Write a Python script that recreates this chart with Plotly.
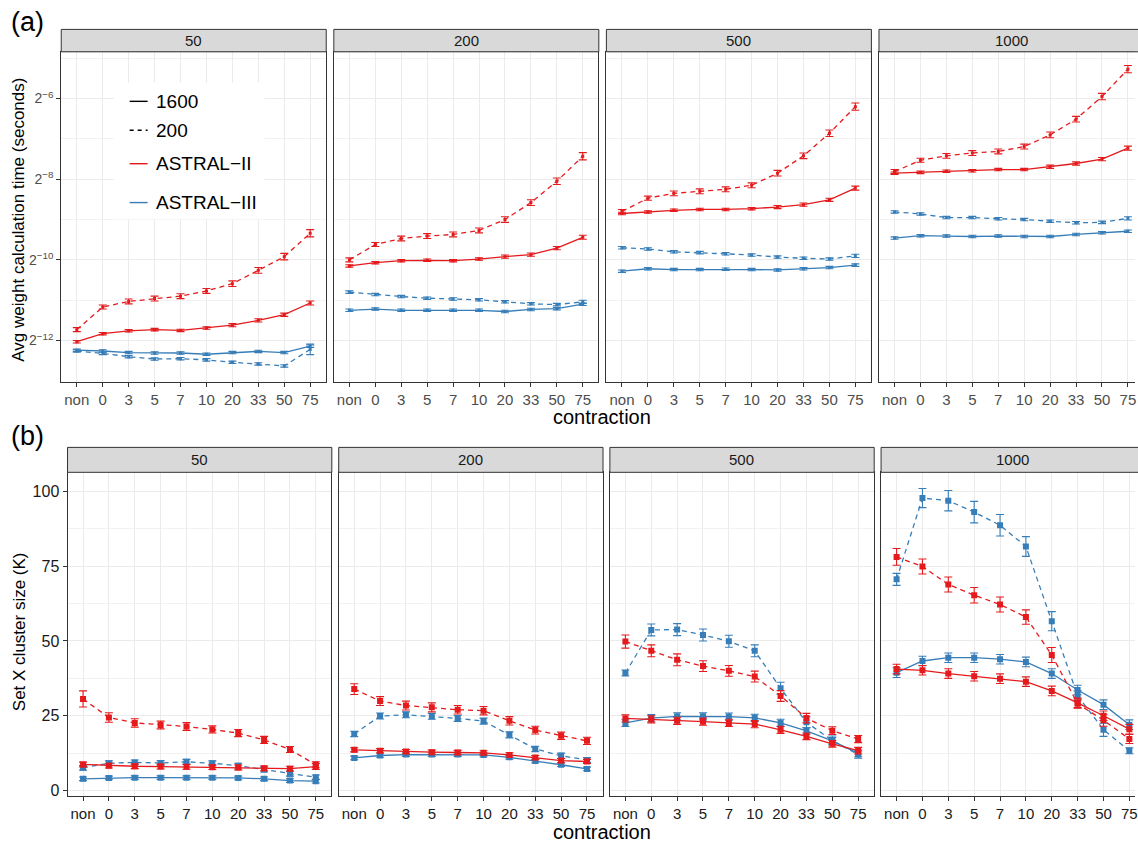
import numpy as np
import plotly.graph_objects as go

W, H = 1138, 845
FONT = "Liberation Sans, Arial, Helvetica, sans-serif"
RED, BLUE = "#E41A1C", "#377EB8"

contraction = ["non", "0", "3", "5", "7", "10", "20", "33", "50", "75"]
facets = ["50", "200", "500", "1000"]

# ---- (a) average weight calculation time, stored as log2(seconds) ----
time_50_ii_200 = [-11.73, -11.17, -11.03, -10.96, -10.90, -10.77, -10.59, -10.26, -9.92, -9.34]
time_50_ii_1600 = [-12.03, -11.83, -11.76, -11.73, -11.75, -11.69, -11.62, -11.50, -11.36, -11.07]
time_50_iii_200 = [-12.26, -12.32, -12.40, -12.46, -12.45, -12.48, -12.54, -12.58, -12.63, -12.22]
time_50_iii_1600 = [-12.24, -12.26, -12.30, -12.31, -12.31, -12.34, -12.30, -12.27, -12.30, -12.14]

time_200_ii_200 = [-10.00, -9.62, -9.47, -9.41, -9.37, -9.27, -9.00, -8.58, -8.05, -7.43]
time_200_ii_1600 = [-10.15, -10.07, -10.02, -10.01, -10.02, -9.98, -9.92, -9.87, -9.71, -9.44]
time_200_iii_200 = [-10.80, -10.86, -10.91, -10.95, -10.97, -10.99, -11.04, -11.09, -11.11, -11.04]
time_200_iii_1600 = [-11.25, -11.22, -11.25, -11.25, -11.25, -11.25, -11.28, -11.23, -11.21, -11.10]

time_500_ii_200 = [-8.80, -8.47, -8.35, -8.30, -8.25, -8.15, -7.85, -7.42, -6.86, -6.20]
time_500_ii_1600 = [-8.85, -8.81, -8.77, -8.75, -8.75, -8.73, -8.69, -8.63, -8.51, -8.22]
time_500_iii_200 = [-9.70, -9.73, -9.80, -9.82, -9.85, -9.88, -9.93, -9.96, -9.98, -9.90]
time_500_iii_1600 = [-10.28, -10.22, -10.24, -10.24, -10.23, -10.24, -10.25, -10.22, -10.19, -10.13]

time_1000_ii_200 = [-7.81, -7.53, -7.42, -7.35, -7.31, -7.19, -6.90, -6.51, -5.95, -5.27]
time_1000_ii_1600 = [-7.85, -7.83, -7.80, -7.79, -7.76, -7.76, -7.69, -7.61, -7.50, -7.23]
time_1000_iii_200 = [-8.81, -8.86, -8.95, -8.95, -8.98, -9.00, -9.04, -9.08, -9.07, -8.97]
time_1000_iii_1600 = [-9.46, -9.40, -9.41, -9.42, -9.41, -9.42, -9.42, -9.37, -9.33, -9.29]

# error half-heights in log2 units
time_err_ii_200 = [0.05, 0.05, 0.06, 0.06, 0.06, 0.06, 0.07, 0.07, 0.08, 0.09]
time_err_ii_1600 = [0.03, 0.03, 0.03, 0.03, 0.03, 0.03, 0.04, 0.04, 0.04, 0.05]
time_err_iii_200 = [0.03, 0.03, 0.03, 0.03, 0.03, 0.03, 0.03, 0.03, 0.03, 0.04]
time_err_iii_1600 = [0.03, 0.03, 0.03, 0.03, 0.03, 0.03, 0.03, 0.03, 0.03, 0.03]
time_err_50_iii_200 = [0.03, 0.03, 0.03, 0.03, 0.03, 0.03, 0.03, 0.03, 0.03, 0.13]

# ---- (b) Set X cluster size (K) ----
size_50_ii_200 = [30.6, 24.4, 22.6, 21.9, 21.4, 20.4, 19.2, 16.9, 13.7, 8.6]
size_50_ii_1600 = [8.7, 8.3, 8.1, 8.0, 7.9, 7.8, 7.7, 7.4, 7.3, 8.0]
size_50_iii_200 = [7.6, 9.1, 9.4, 9.2, 9.6, 9.1, 8.3, 7.0, 5.6, 4.4]
size_50_iii_1600 = [3.9, 4.2, 4.3, 4.3, 4.3, 4.3, 4.2, 3.9, 3.3, 3.1]
err_50_ii_200 = [2.7, 1.6, 1.4, 1.3, 1.3, 1.2, 1.2, 1.2, 1.0, 1.0]
err_50_ii_1600 = [0.8, 0.8, 0.8, 0.8, 0.8, 0.8, 0.8, 0.8, 0.8, 1.0]
err_50_iii_200 = [0.8, 0.8, 0.8, 0.8, 0.8, 0.8, 0.8, 0.8, 0.8, 0.8]
err_50_iii_1600 = [0.6, 0.6, 0.6, 0.6, 0.6, 0.6, 0.6, 0.6, 0.6, 0.6]

size_200_ii_200 = [33.9, 29.9, 28.4, 27.8, 27.0, 26.7, 23.3, 20.2, 18.3, 16.6]
size_200_ii_1600 = [13.6, 13.3, 13.0, 12.8, 12.7, 12.6, 11.9, 11.0, 10.0, 9.7]
size_200_iii_200 = [18.9, 24.9, 25.3, 24.8, 24.1, 23.2, 18.6, 13.9, 11.6, 10.2]
size_200_iii_1600 = [10.9, 11.7, 12.0, 12.0, 12.0, 11.9, 11.1, 9.9, 8.6, 7.2]
err_200_ii_200 = [1.8, 1.5, 1.5, 1.5, 1.4, 1.4, 1.4, 1.3, 1.2, 1.2]
err_200_ii_1600 = [0.7, 0.7, 0.7, 0.7, 0.7, 0.7, 0.7, 0.7, 0.7, 0.7]
err_200_iii_200 = [0.9, 1.0, 1.0, 1.0, 1.0, 1.0, 1.0, 0.9, 0.9, 0.8]
err_200_iii_1600 = [0.6, 0.6, 0.6, 0.6, 0.6, 0.6, 0.6, 0.6, 0.6, 0.6]

size_500_ii_200 = [49.8, 46.7, 43.7, 41.6, 40.0, 38.1, 31.6, 24.2, 20.0, 17.2]
size_500_ii_1600 = [24.1, 23.8, 23.3, 23.0, 22.6, 22.2, 20.3, 18.1, 15.6, 13.3]
size_500_iii_200 = [39.3, 53.7, 53.8, 52.0, 49.9, 46.7, 34.2, 22.8, 16.7, 12.0]
size_500_iii_1600 = [22.6, 24.2, 24.8, 24.8, 24.7, 24.3, 22.6, 19.9, 16.6, 12.4]
err_500_ii_200 = [2.2, 2.0, 2.0, 1.8, 1.8, 1.8, 1.8, 1.6, 1.3, 1.2]
err_500_ii_1600 = [1.2, 1.2, 1.2, 1.2, 1.2, 1.2, 1.2, 1.1, 1.1, 1.1]
err_500_iii_200 = [1.0, 2.0, 2.0, 2.0, 2.0, 2.0, 2.0, 1.8, 1.5, 1.2]
err_500_iii_1600 = [1.2, 1.2, 1.2, 1.2, 1.2, 1.2, 1.2, 1.1, 1.1, 1.1]

size_1000_ii_200 = [78.1, 74.9, 68.9, 65.3, 62.2, 58.0, 45.3, 29.0, 23.5, 17.2]
size_1000_ii_1600 = [40.6, 40.2, 39.1, 38.2, 37.4, 36.4, 33.3, 29.3, 25.0, 20.5]
size_1000_iii_200 = [70.6, 97.8, 96.9, 93.1, 88.7, 81.6, 56.6, 31.7, 20.3, 13.3]
size_1000_iii_1600 = [39.4, 43.3, 44.4, 44.4, 43.9, 43.0, 39.1, 33.6, 28.7, 22.0]
err_1000_ii_200 = [2.8, 2.5, 2.5, 2.6, 2.5, 2.4, 2.5, 1.5, 2.0, 1.5]
err_1000_ii_1600 = [1.6, 1.6, 1.6, 1.6, 1.6, 1.6, 1.6, 1.6, 1.6, 1.6]
err_1000_iii_200 = [2.0, 3.2, 3.4, 3.6, 3.6, 3.3, 3.2, 1.6, 2.2, 1.0]
err_1000_iii_1600 = [1.6, 1.6, 1.6, 1.6, 1.6, 1.6, 1.6, 1.6, 1.6, 1.6]

time_series = [
    [(time_50_iii_200, time_err_50_iii_200, BLUE, "200"), (time_50_iii_1600, time_err_iii_1600, BLUE, "1600"),
     (time_50_ii_200, time_err_ii_200, RED, "200"), (time_50_ii_1600, time_err_ii_1600, RED, "1600")],
    [(time_200_iii_200, time_err_iii_200, BLUE, "200"), (time_200_iii_1600, time_err_iii_1600, BLUE, "1600"),
     (time_200_ii_200, time_err_ii_200, RED, "200"), (time_200_ii_1600, time_err_ii_1600, RED, "1600")],
    [(time_500_iii_200, time_err_iii_200, BLUE, "200"), (time_500_iii_1600, time_err_iii_1600, BLUE, "1600"),
     (time_500_ii_200, time_err_ii_200, RED, "200"), (time_500_ii_1600, time_err_ii_1600, RED, "1600")],
    [(time_1000_iii_200, time_err_iii_200, BLUE, "200"), (time_1000_iii_1600, time_err_iii_1600, BLUE, "1600"),
     (time_1000_ii_200, time_err_ii_200, RED, "200"), (time_1000_ii_1600, time_err_ii_1600, RED, "1600")],
]
size_series = [
    [(size_50_iii_200, err_50_iii_200, BLUE, "200"), (size_50_iii_1600, err_50_iii_1600, BLUE, "1600"),
     (size_50_ii_200, err_50_ii_200, RED, "200"), (size_50_ii_1600, err_50_ii_1600, RED, "1600")],
    [(size_200_iii_200, err_200_iii_200, BLUE, "200"), (size_200_iii_1600, err_200_iii_1600, BLUE, "1600"),
     (size_200_ii_200, err_200_ii_200, RED, "200"), (size_200_ii_1600, err_200_ii_1600, RED, "1600")],
    [(size_500_iii_200, err_500_iii_200, BLUE, "200"), (size_500_iii_1600, err_500_iii_1600, BLUE, "1600"),
     (size_500_ii_200, err_500_ii_200, RED, "200"), (size_500_ii_1600, err_500_ii_1600, RED, "1600")],
    [(size_1000_iii_200, err_1000_iii_200, BLUE, "200"), (size_1000_iii_1600, err_1000_iii_1600, BLUE, "1600"),
     (size_1000_ii_200, err_1000_ii_200, RED, "200"), (size_1000_ii_1600, err_1000_ii_1600, RED, "1600")],
]

DASH = {"200": "5px,4px", "1600": "solid"}

# panel geometry in pixels
top_left = [61.4, 334.7, 608.0, 881.3]
top_w = 265.2
top_strip = (29.5, 52.0)
top_plot = (52.0, 383.0)
bot_left = [67.7, 339.6, 611.5, 883.4]
bot_w = 264.5
bot_strip = (449.0, 474.0)
bot_plot = (474.0, 799.0)

LOG2 = np.log10(2)
fig = go.Figure()
layout = dict(width=W, height=H, margin=dict(l=0, r=0, t=0, b=0),
              paper_bgcolor="white", plot_bgcolor="white", showlegend=False,
              font=dict(family=FONT, color="#1A1A1A"))
shapes, annotations = [], []


def px_x(v):
    return v / W


def px_y(v):
    return 1 - v / H


def add_panel(idx, left, width, plot_rng, strip_rng, label, yaxis_extra, tick_color, last):
    right = left + width
    vis_right = min(right, W)
    xr_end = -0.6 + 10.2 * (vis_right - left) / width
    xa = dict(domain=[px_x(left), px_x(vis_right)], type="category",
              categoryorder="array", categoryarray=contraction,
              range=[-0.6, xr_end], anchor=f"y{idx}",
              showgrid=True, gridcolor="#EBEBEB", gridwidth=1.1, zeroline=False,
              showline=True, linecolor="#333333", linewidth=1, mirror=True,
              ticks="outside", ticklen=4, tickcolor="#333333", tickwidth=1,
              tickfont=dict(family=FONT, size=15, color=tick_color), fixedrange=True)
    ya = dict(domain=[px_y(plot_rng[1]), px_y(plot_rng[0])], anchor=f"x{idx}",
              showgrid=True, gridcolor="#EBEBEB", gridwidth=1.1, zeroline=False,
              showline=True, linecolor="#333333", linewidth=1, mirror=not last,
              ticks="outside", ticklen=4, tickcolor="#333333", tickwidth=1,
              fixedrange=True)
    ya.update(yaxis_extra)
    layout[f"xaxis{idx}"] = xa
    layout[f"yaxis{idx}"] = ya
    shapes.append(dict(type="rect", xref="paper", yref="paper",
                       x0=px_x(left), x1=px_x(right + 0.5),
                       y0=px_y(strip_rng[1]), y1=px_y(strip_rng[0]),
                       fillcolor="#D9D9D9", line=dict(color="#333333", width=1), layer="above"))
    annotations.append(dict(xref="paper", yref="paper", x=px_x(left + width / 2),
                            y=px_y((strip_rng[0] + strip_rng[1]) / 2), text=label,
                            showarrow=False, xanchor="center", yanchor="middle",
                            font=dict(family=FONT, size=15, color="#1A1A1A")))


top_major = [-12, -10, -8, -6]
top_minor = [-13, -11, -9, -7, -5]
for i, facet in enumerate(facets):
    idx = i + 1
    extra = dict(type="log", range=[-13.02 * LOG2, -4.84 * LOG2],
                 tickmode="array", tickvals=[2.0 ** e for e in top_major],
                 ticktext=[f"2<sup>\u2212{-e}</sup>" for e in top_major],
                 showticklabels=(i == 0),
                 tickfont=dict(family=FONT, size=14, color="#4D4D4D"),
                 minor=dict(tickmode="array", tickvals=[2.0 ** e for e in top_minor],
                            showgrid=True, gridcolor="#F2F2F2", gridwidth=0.6, ticks=""))
    if i > 0:
        extra["ticks"] = ""
    add_panel(idx, top_left[i], top_w, top_plot, top_strip, facet, extra, "#4D4D4D", i == 3)
    for vals, errs, color, genes in time_series[i]:
        v = np.array(vals)
        e = np.array(errs)
        y = 2.0 ** v
        fig.add_trace(go.Scatter(
            x=contraction, y=y, mode="lines+markers",
            line=dict(color=color, width=1.3, dash=DASH[genes]),
            marker=dict(symbol="square", size=3, color=color),
            error_y=dict(type="data", symmetric=False,
                         array=y * (2.0 ** e - 1), arrayminus=y * (1 - 2.0 ** -e),
                         color=color, thickness=1.1, width=4),
            xaxis=f"x{idx}", yaxis=f"y{idx}"))

for i, facet in enumerate(facets):
    idx = i + 5
    extra = dict(range=[-1.9, 106.4], tickmode="array", tickvals=[0, 25, 50, 75, 100],
                 showticklabels=(i == 0),
                 tickfont=dict(family=FONT, size=16, color="#1A1A1A"),
                 minor=dict(tickmode="array", tickvals=[12.5, 37.5, 62.5, 87.5],
                            showgrid=True, gridcolor="#F2F2F2", gridwidth=0.6, ticks=""))
    if i > 0:
        extra["ticks"] = ""
    add_panel(idx, bot_left[i], bot_w, bot_plot, bot_strip, facet, extra, "#1A1A1A", i == 3)
    for vals, errs, color, genes in size_series[i]:
        fig.add_trace(go.Scatter(
            x=contraction, y=vals, mode="lines+markers",
            line=dict(color=color, width=1.3, dash=DASH[genes]),
            marker=dict(symbol="square", size=6, color=color),
            error_y=dict(type="data", array=errs, color=color, thickness=1.1, width=4),
            xaxis=f"x{idx}", yaxis=f"y{idx}"))

# axis titles and panel tags
annotations += [
    dict(xref="paper", yref="paper", x=px_x(18.5), y=px_y(220), text="Avg weight calculation time (seconds)",
         textangle=-90, showarrow=False, xanchor="center", yanchor="middle",
         font=dict(family=FONT, size=17, color="#000000")),
    dict(xref="paper", yref="paper", x=px_x(19.5), y=px_y(634), text="Set X cluster size (K)",
         textangle=-90, showarrow=False, xanchor="center", yanchor="middle",
         font=dict(family=FONT, size=17, color="#000000")),
    dict(xref="paper", yref="paper", x=px_x(604), y=px_y(418), text="contraction",
         showarrow=False, xanchor="center", yanchor="middle",
         font=dict(family=FONT, size=20, color="#000000")),
    dict(xref="paper", yref="paper", x=px_x(604), y=px_y(835), text="contraction",
         showarrow=False, xanchor="center", yanchor="middle",
         font=dict(family=FONT, size=20, color="#000000")),
    dict(xref="paper", yref="paper", x=px_x(9), y=px_y(22), text="(a)",
         showarrow=False, xanchor="left", yanchor="middle",
         font=dict(family=FONT, size=27, color="#000000")),
    dict(xref="paper", yref="paper", x=px_x(9), y=px_y(438), text="(b)",
         showarrow=False, xanchor="left", yanchor="middle",
         font=dict(family=FONT, size=27, color="#000000")),
]

# key inside the first (a) panel
shapes.append(dict(type="rect", xref="paper", yref="paper", x0=px_x(114), x1=px_x(265),
                   y0=px_y(220), y1=px_y(83), fillcolor="white", line=dict(width=0), layer="above"))
key_items = [("1600", "#000000", "solid", 101.7), ("200", "#000000", "4px,4px", 130.7),
             ("ASTRAL\u2212II", RED, "solid", 164.3), ("ASTRAL\u2212III", BLUE, "solid", 203.3)]
for text, color, dash, ypx in key_items:
    shapes.append(dict(type="line", xref="paper", yref="paper", x0=px_x(130), x1=px_x(148),
                       y0=px_y(ypx), y1=px_y(ypx), line=dict(color=color, width=1.4, dash=dash),
                       layer="above"))
    annotations.append(dict(xref="paper", yref="paper", x=px_x(154), y=px_y(ypx), text=text,
                            showarrow=False, xanchor="left", yanchor="middle",
                            font=dict(family=FONT, size=19, color="#000000")))

layout["shapes"] = shapes
layout["annotations"] = annotations
fig.update_layout(**layout)
fig.write_html("out.html")
